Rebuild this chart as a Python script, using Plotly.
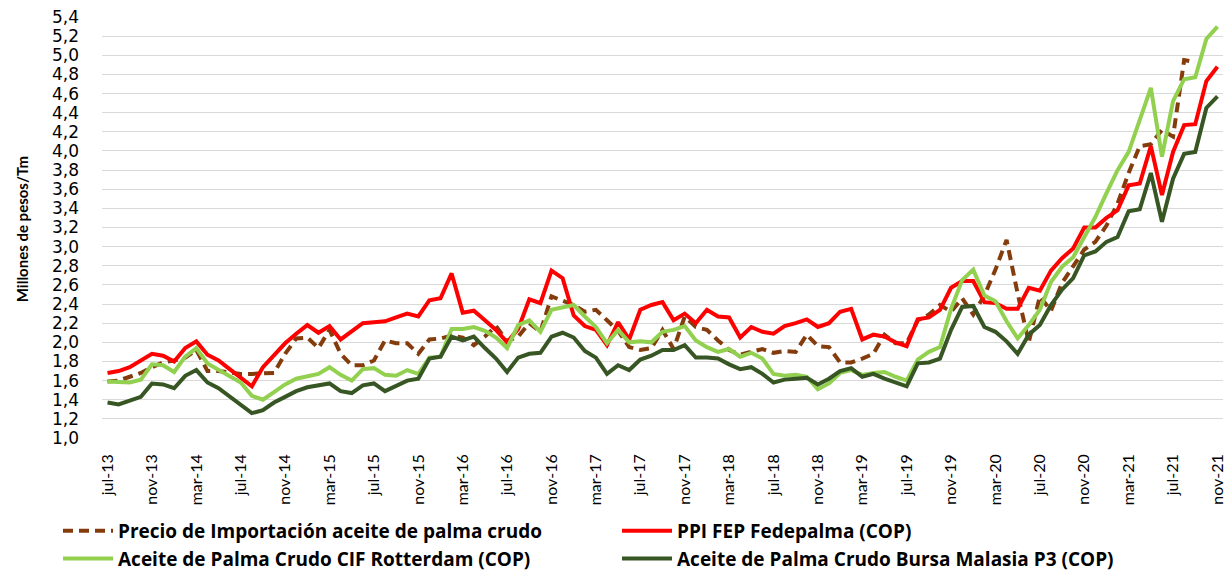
import plotly.graph_objects as go

# Monthly series, jul-13 .. nov-21 (millions of COP per tonne)
meses_abrev = ["ene", "feb", "mar", "abr", "may", "jun",
               "jul", "ago", "sep", "oct", "nov", "dic"]
meses = []
for anio in range(13, 22):
    for m, ab in enumerate(meses_abrev, start=1):
        if (anio == 13 and m < 7) or (anio == 21 and m > 11):
            continue
        meses.append(f"{ab}-{anio}")

etiquetas_eje = meses[::4]

importacion = [
    1.59, 1.60, 1.64, 1.68, 1.74, 1.79, 1.81, 1.84, 1.92, 1.70,
    1.70, 1.68, 1.67, 1.67, 1.67, 1.68, 1.88, 2.04, 2.05, 1.94,
    2.13, 1.88, 1.76, 1.76, 1.81, 2.02, 1.99, 1.99, 1.88, 2.03,
    2.04, 2.07, 2.05, 1.97, 2.06, 2.17, 2.01, 2.06, 2.20, 2.11,
    2.48, 2.44, 2.39, 2.32, 2.34, 2.23, 2.12, 1.95, 1.92, 1.94,
    2.13, 1.93, 2.27, 2.16, 2.13, 2.02, 1.92, 1.87, 1.90, 1.93,
    1.89, 1.91, 1.90, 2.08, 1.96, 1.95, 1.79, 1.79, 1.83, 1.88,
    2.08, 1.99, 1.99, 2.23, 2.29, 2.39, 2.32, 2.46, 2.29, 2.49,
    2.76, 3.07, 2.51, 2.00, 2.48, 2.33, 2.62, 2.80, 2.97, 3.05,
    3.22, 3.45, 3.77, 4.05, 4.07, 4.22, 4.15, 4.95, 4.93, None,
    None,
]

ppi_fep = [
    1.68, 1.70, 1.74, 1.81, 1.88, 1.86, 1.80, 1.94, 2.01, 1.87,
    1.81, 1.72, 1.63, 1.54, 1.74, 1.87, 1.99, 2.09, 2.18, 2.10,
    2.17, 2.03, 2.11, 2.20, 2.21, 2.22, 2.26, 2.30, 2.27, 2.44,
    2.46, 2.72, 2.31, 2.33, 2.23, 2.13, 2.00, 2.14, 2.45, 2.41,
    2.75, 2.67, 2.28, 2.17, 2.13, 1.97, 2.21, 2.03, 2.34, 2.39,
    2.42, 2.23, 2.30, 2.20, 2.34, 2.27, 2.26, 2.05, 2.16, 2.11,
    2.09, 2.17, 2.20, 2.24, 2.16, 2.20, 2.32, 2.35, 2.03, 2.08,
    2.06, 2.00, 1.96, 2.24, 2.26, 2.34, 2.57, 2.64, 2.64, 2.42,
    2.41, 2.35, 2.35, 2.57, 2.54, 2.75, 2.88, 2.98, 3.20, 3.20,
    3.30, 3.38, 3.64, 3.66, 4.05, 3.54, 3.99, 4.27, 4.28, 4.73,
    4.88,
]

cif_rotterdam = [
    1.59, 1.58, 1.58, 1.61, 1.77, 1.76, 1.69, 1.85, 1.94, 1.78,
    1.71, 1.64, 1.58, 1.44, 1.40, 1.48, 1.56, 1.62, 1.64, 1.67,
    1.74, 1.66, 1.60, 1.72, 1.73, 1.66, 1.65, 1.71, 1.67, 1.84,
    1.85, 2.14, 2.14, 2.16, 2.12, 2.05, 1.94, 2.18, 2.23, 2.11,
    2.34, 2.37, 2.39, 2.27, 2.16, 1.99, 2.13, 2.00, 2.01, 2.00,
    2.11, 2.13, 2.17, 2.02, 1.95, 1.90, 1.93, 1.85, 1.89, 1.83,
    1.67, 1.65, 1.66, 1.64, 1.51, 1.57, 1.68, 1.71, 1.66, 1.68,
    1.69, 1.64, 1.60, 1.82, 1.90, 1.95, 2.35, 2.65, 2.76, 2.49,
    2.43, 2.22, 2.04, 2.18, 2.34, 2.63, 2.79, 2.89, 3.09, 3.31,
    3.56, 3.80, 3.99, 4.32, 4.66, 3.94, 4.52, 4.75, 4.77, 5.17,
    5.30,
]

bursa_malasia = [
    1.37, 1.35, 1.39, 1.43, 1.57, 1.56, 1.52, 1.65, 1.71, 1.58,
    1.52, 1.43, 1.35, 1.26, 1.29, 1.37, 1.43, 1.49, 1.53, 1.55,
    1.57, 1.49, 1.47, 1.55, 1.57, 1.49, 1.55, 1.60, 1.62, 1.83,
    1.85, 2.06, 2.02, 2.06, 1.94, 1.83, 1.69, 1.84, 1.88, 1.89,
    2.06, 2.10, 2.05, 1.91, 1.84, 1.67, 1.76, 1.71, 1.82, 1.86,
    1.92, 1.92, 1.97, 1.84, 1.84, 1.83, 1.77, 1.72, 1.74, 1.67,
    1.58, 1.61, 1.62, 1.63, 1.56, 1.62, 1.70, 1.73, 1.64, 1.67,
    1.62, 1.58, 1.54, 1.78, 1.79, 1.83, 2.13, 2.37, 2.38, 2.16,
    2.11, 2.01, 1.88, 2.08, 2.18, 2.39, 2.55, 2.67, 2.91, 2.95,
    3.05, 3.10, 3.37, 3.39, 3.77, 3.26, 3.71, 3.97, 3.99, 4.45,
    4.57,
]

y_ticks = [round(1.0 + 0.2 * k, 1) for k in range(23)]
y_tick_text = [f"{v:.1f}".replace(".", ",") for v in y_ticks]

series = [
    ("Precio de Importación aceite de palma crudo", importacion, "#843C0C", "10px,6px"),
    ("PPI FEP Fedepalma (COP)", ppi_fep, "#FF0000", "solid"),
    ("Aceite de Palma Crudo CIF Rotterdam (COP)", cif_rotterdam, "#92D050", "solid"),
    ("Aceite de Palma Crudo Bursa Malasia P3 (COP)", bursa_malasia, "#375623", "solid"),
]

fig = go.Figure()
for nombre, valores, color, dash in series:
    fig.add_trace(go.Scatter(
        x=meses, y=valores, name=nombre, mode="lines",
        line=dict(color=color, width=4, dash=dash),
        connectgaps=False,
    ))

W, H = 1229, 572
fig.update_layout(
    width=W, height=H,
    margin=dict(l=102, r=3, t=16, b=133),
    plot_bgcolor="white", paper_bgcolor="white",
    xaxis=dict(
        type="category",
        range=[-0.5, 100.5],
        tickmode="array", tickvals=etiquetas_eje, ticktext=etiquetas_eje,
        tickangle=-90, showgrid=False, showline=False, zeroline=False,
        ticks="", ticklabelstandoff=11,
        tickfont=dict(family="Lato, Open Sans, sans-serif", size=16, color="#000000"),
    ),
    yaxis=dict(
        range=[0.9895, 5.4105],
        tickmode="array", tickvals=y_ticks, ticktext=y_tick_text,
        showgrid=True, gridcolor="#D9D9D9", gridwidth=1.3,
        zeroline=False, showline=False, ticks="",
        ticklabelstandoff=22,
        tickfont=dict(family="DejaVu Sans, Verdana, sans-serif", size=17, color="#000000"),
    ),
    showlegend=True,
    legend=dict(
        orientation="h",
        xref="container", yref="container",
        x=58 / W, y=1 - 512 / H, xanchor="left", yanchor="top",
        entrywidth=494, entrywidthmode="pixels",
        itemwidth=50,
        font=dict(family="Open Sans, Lato, sans-serif", size=19, color="#000000", weight="bold"),
        bgcolor="rgba(0,0,0,0)",
    ),
    annotations=[dict(
        text="<b>Millones de pesos/Tm</b>",
        xref="paper", yref="paper",
        x=(22 - 102) / (W - 105), y=(439 - 229) / 423,
        xanchor="center", yanchor="middle", textangle=-90, showarrow=False,
        font=dict(family="Lato, sans-serif", size=15, color="#000000"),
    )],
)

fig.write_html("out.html")
